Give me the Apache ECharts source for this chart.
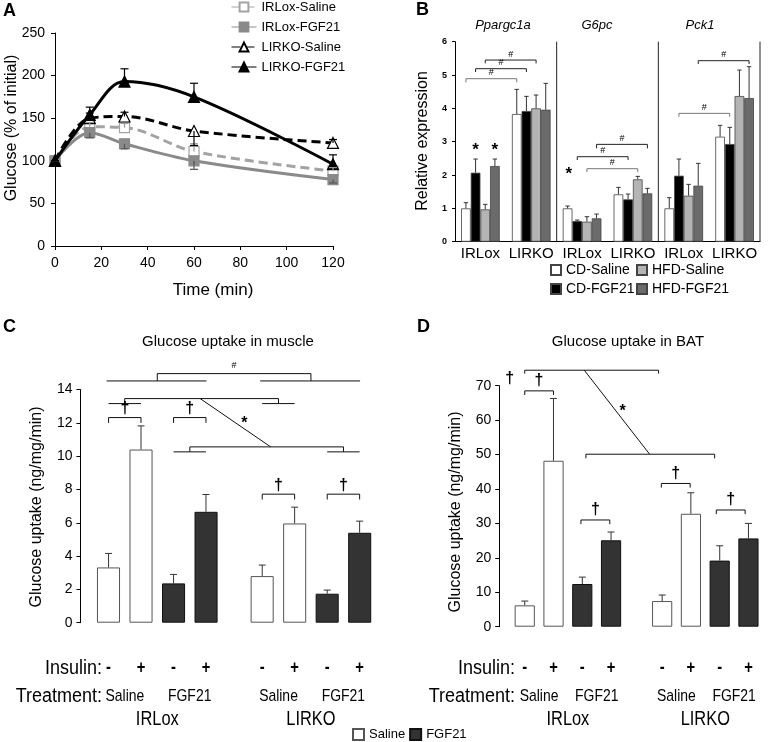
<!DOCTYPE html>
<html><head><meta charset="utf-8">
<script src="https://cdn.jsdelivr.net/npm/echarts@6/dist/echarts.min.js"></script>
<style>html,body{margin:0;padding:0;background:#fff}#c{width:774px;height:742px}</style>
</head><body><div id="c"></div>
<script>
// ---------- Panel A data ----------
const aTimes = [0, 15, 30, 60, 120];
const aIRLoxSaline = [100, 140, 139, 111, 88];
const aIRLoxFGF21 = [100, 133, 120, 100, 78];
const aLIRKOSaline = [100, 150, 152, 135, 121];
const aLIRKOFGF21 = [100, 154, 193, 175, 96];
const aIRLoxSalineErr = [100, 145, 144, 120, 92];
const aIRLoxFGF21Err = [100, 127, 114, 90, 74];
const aLIRKOSalineErr = [100, 156, 157, 118, 125];
const aLIRKOFGF21Err = [100, 163, 208, 191, 107];

// ---------- Panel B data ----------
const bCategories = ['IRLox', 'LIRKO', 'IRLox', 'LIRKO', 'IRLox', 'LIRKO'];
const bGenes = ['Ppargc1a', 'G6pc', 'Pck1'];
const bCDSaline = [1.0, 3.83, 1.0, 1.42, 1.0, 3.15];
const bCDSalineErr = [1.17, 4.57, 1.07, 1.63, 1.32, 3.49];
const bCDFGF21 = [2.07, 3.92, 0.62, 1.27, 1.98, 2.93];
const bCDFGF21Err = [2.48, 4.36, 0.65, 1.43, 2.48, 3.43];
const bHFDSaline = [0.97, 4.0, 0.6, 1.87, 1.38, 4.37];
const bHFDSalineErr = [1.12, 4.4, 0.75, 1.96, 1.72, 5.15];
const bHFDFGF21 = [2.27, 3.96, 0.7, 1.45, 1.68, 4.31];
const bHFDFGF21Err = [2.48, 4.75, 0.83, 1.6, 2.35, 5.25];

// ---------- Panel C data (muscle) ----------
const cdGenotypes = ['IRLox', 'LIRKO'];
const cSalineBasal = [3.32, 2.8];
const cSalineBasalErr = [4.16, 3.46];
const cSalineInsulin = [10.4, 5.96];
const cSalineInsulinErr = [11.82, 6.94];
const cFGF21Basal = [2.36, 1.74];
const cFGF21BasalErr = [2.9, 1.96];
const cFGF21Insulin = [6.66, 5.4];
const cFGF21InsulinErr = [7.7, 6.1];

// ---------- Panel D data (BAT) ----------
const dSalineBasal = [6.2, 7.45];
const dSalineBasalErr = [7.45, 9.2];
const dSalineInsulin = [48.2, 32.8];
const dSalineInsulinErr = [66.3, 38.9];
const dFGF21Basal = [12.4, 19.2];
const dFGF21BasalErr = [14.4, 23.5];
const dFGF21Insulin = [25.1, 25.65];
const dFGF21InsulinErr = [27.5, 30.0];

// bottom row labels
const insulinSigns = ['-', '+', '-', '+', '-', '+', '-', '+'];
const treatments = ['Saline', 'FGF21', 'Saline', 'FGF21'];

// ---------- layout constants (not data) ----------
const SANS = "'Liberation Sans', Arial, sans-serif";
const NX = 0.82; // horizontal squeeze to mimic a narrow face
const bOff = [-0.285, -0.095, 0.095, 0.285];
const cOff = [-0.317, -0.106, 0.106, 0.317];
const dOff = [-0.314, -0.105, 0.105, 0.314];
const cPos = [0, 1].flatMap(i => cOff.map(o => i + o));
const dPos = [0, 1].flatMap(i => dOff.map(o => i + o));
const ROW_INS = 668, ROW_TRT = 696, ROW_GEN = 719;

// significance annotations (in axis units)
const bBracketsGray = [
  [[-0.285, 4.78], [-0.285, 4.89], [0.715, 4.89], [0.715, 4.78]],
  [[2.095, 2.09], [2.095, 2.19], [3.095, 2.19], [3.095, 2.09]],
  [[3.905, 3.75], [3.905, 3.85], [4.905, 3.85], [4.905, 3.75]]
];
const bBracketsBlack = [
  [[-0.095, 5.09], [-0.095, 5.19], [0.905, 5.19], [0.905, 5.09]],
  [[0.095, 5.35], [0.095, 5.45], [1.095, 5.45], [1.095, 5.35]],
  [[1.905, 2.45], [1.905, 2.55], [2.905, 2.55], [2.905, 2.45]],
  [[2.285, 2.80], [2.285, 2.92], [3.285, 2.92], [3.285, 2.80]],
  [[4.285, 5.33], [4.285, 5.43], [5.285, 5.43], [5.285, 5.33]],
  [[1.5, 0], [1.5, 6]], [[3.5, 0], [3.5, 6]], [[5.5, 0], [5.5, 6]]
];
const bHashes = [[0.215, 4.89, '#'], [0.405, 5.19, '#'], [0.595, 5.45, '#'],
  [2.785, 2.92, '#'], [2.405, 2.55, '#'], [2.595, 2.19, '#'], [4.405, 3.85, '#'], [4.785, 5.43, '#']];
const bStars = [[-0.095, 2.83, '*'], [0.285, 2.83, '*'], [1.74, 2.1, '*']];

const cBrackets = [
  [[-0.33, 14.52], [0.32, 14.52]],
  [[0, 14.52], [0, 14.96], [1, 14.96], [1, 14.52]],
  [[0.67, 14.52], [1.32, 14.52]],
  [[-0.317, 13.16], [-0.106, 13.16]],
  [[-0.212, 13.16], [-0.212, 13.46], [0.789, 13.46], [0.789, 13.16]],
  [[0.683, 13.16], [0.894, 13.16]],
  [[0.279, 13.46], [0.738, 10.56]],
  [[0.106, 10.26], [0.317, 10.26]],
  [[0.212, 10.26], [0.212, 10.56], [1.212, 10.56], [1.212, 10.26]],
  [[1.106, 10.26], [1.317, 10.26]],
  [[-0.317, 12.0], [-0.317, 12.32], [-0.106, 12.32], [-0.106, 12.0]],
  [[0.106, 12.0], [0.106, 12.32], [0.317, 12.32], [0.317, 12.0]],
  [[0.683, 7.4], [0.683, 7.72], [0.894, 7.72], [0.894, 7.4]],
  [[1.106, 7.4], [1.106, 7.72], [1.317, 7.72], [1.317, 7.4]]
];
const cHashes = [[0.5, 15.46, '#']];
const cStars = [[0.567, 12.16, '*']];
const cDaggers = [[-0.211, 12.32, '†'], [0.211, 12.32, '†'], [0.789, 7.72, '†'], [1.211, 7.72, '†']];

const dBrackets = [
  [[-0.314, 73.5], [-0.314, 74.5], [0.66, 74.5], [0.66, 73.5]],
  [[0.119, 74.5], [0.595, 50.1]],
  [[0.131, 48.9], [0.131, 50.1], [1.068, 50.1], [1.068, 48.9]],
  [[-0.314, 67.3], [-0.314, 68.5], [-0.105, 68.5], [-0.105, 67.3]],
  [[0.095, 29.8], [0.095, 31.0], [0.305, 31.0], [0.305, 29.8]],
  [[0.68, 40.4], [0.68, 41.6], [0.89, 41.6], [0.89, 40.4]],
  [[1.08, 32.7], [1.08, 33.9], [1.29, 33.9], [1.29, 32.7]]
];
const dStars = [[0.399, 63.4, '*']];
const dDaggers = [[-0.21, 68.5, '†'], [0.2, 31.0, '†'], [0.785, 41.6, '†'], [1.185, 33.9, '†']];
const dOuterDagger = [[-0.424, 72.1, '†']];

// ---------- helpers ----------
function pathSeries(xi, yi, paths, color, width) {
  return {
    type: 'custom', xAxisIndex: xi, yAxisIndex: yi, silent: true, z: 5, clip: false,
    data: paths.map(p => [p[0][0], p[0][1]]),
    renderItem: (params, api) => ({
      type: 'polyline',
      shape: { points: paths[params.dataIndex].map(pt => api.coord(pt)) },
      style: { stroke: color, lineWidth: width, fill: null }
    })
  };
}
function textSeries(xi, yi, items, font, color, dy, sx, absY) {
  return {
    type: 'custom', xAxisIndex: xi, yAxisIndex: yi, silent: true, z: 6, clip: false,
    data: items.map(t => [t[0], t[1]]),
    renderItem: (params, api) => {
      const it = items[params.dataIndex];
      const c = api.coord([it[0], it[1]]);
      return {
        type: 'text', x: c[0], y: absY != null ? absY : c[1] + dy, scaleX: sx || 1,
        style: { text: it[2], font: font, fill: color, textAlign: 'center', textVerticalAlign: 'middle', align: 'center', verticalAlign: 'middle' }
      };
    }
  };
}
function errSeries(xi, yi, xs, vals, ends, color, cap, width) {
  return {
    type: 'custom', xAxisIndex: xi, yAxisIndex: yi, silent: true, z: 4, clip: false,
    data: xs.map((x, i) => [x, vals[i], ends[i]]),
    renderItem: (params, api) => {
      const x = api.value(0);
      const p0 = api.coord([x, api.value(1)]);
      const p1 = api.coord([x, api.value(2)]);
      const st = { stroke: color, lineWidth: width };
      return { type: 'group', children: [
        { type: 'line', shape: { x1: p0[0], y1: p0[1], x2: p1[0], y2: p1[1] }, style: st },
        { type: 'line', shape: { x1: p1[0] - cap, y1: p1[1], x2: p1[0] + cap, y2: p1[1] }, style: st }
      ] };
    }
  };
}
function hiddenValueX(grid, min, max) {
  return { type: 'value', gridIndex: grid, min: min, max: max, show: false, splitLine: { show: false } };
}
function yAx(grid, max, interval, fontSize, bold, margin, tick) {
  return {
    type: 'value', gridIndex: grid, min: 0, max: max, interval: interval, splitLine: { show: false },
    axisLine: { show: true, onZero: false, lineStyle: { color: '#000' } },
    axisTick: { show: true, length: tick, lineStyle: { color: '#000' } },
    axisLabel: { color: '#000', fontSize: fontSize, fontWeight: bold ? 'bold' : 'normal', margin: margin, fontFamily: SANS }
  };
}
function gtext(x, y, text, font, align, rot, sx) {
  return { type: 'text', x: x, y: y, rotation: rot || 0, scaleX: sx || 1,
    style: { text: text, font: font, fill: '#000', textAlign: align, align: align, textVerticalAlign: 'middle', verticalAlign: 'middle' } };
}

// ---------- panel A series ----------
function lineSer(name, vals, color, dashed, symbol, fill, z) {
  return {
    type: 'line', name: name, xAxisIndex: 0, yAxisIndex: 0, z: z,
    data: aTimes.map((t, i) => [t, vals[i]]),
    smooth: 0.35, symbol: symbol, symbolSize: symbol === 'triangle' ? 11 : 10,
    lineStyle: { color: color, width: 3, type: dashed ? [9, 5] : 'solid' },
    itemStyle: { color: fill, borderColor: color, borderWidth: 1.2 },
    emphasis: { disabled: true }
  };
}

const series = [
  errSeries(0, 0, aTimes, aIRLoxSaline, aIRLoxSalineErr, '#999', 4, 1.2),
  errSeries(0, 0, aTimes, aIRLoxFGF21, aIRLoxFGF21Err, '#555', 4, 1.2),
  errSeries(0, 0, aTimes, aLIRKOSaline, aLIRKOSalineErr, '#000', 4, 1.2),
  errSeries(0, 0, aTimes, aLIRKOFGF21, aLIRKOFGF21Err, '#000', 4, 1.2),
  lineSer('IRLox-Saline', aIRLoxSaline, '#a3a3a3', true, 'rect', '#fff', 2),
  lineSer('IRLox-FGF21', aIRLoxFGF21, '#8a8a8a', false, 'rect', '#8a8a8a', 2),
  lineSer('LIRKO-Saline', aLIRKOSaline, '#000', true, 'triangle', '#fff', 3),
  lineSer('LIRKO-FGF21', aLIRKOFGF21, '#000', false, 'triangle', '#000', 3),
];

// ---------- panel B series ----------
const bSeriesDefs = [
  ['CD-Saline', bCDSaline, bCDSalineErr, '#ffffff'],
  ['CD-FGF21', bCDFGF21, bCDFGF21Err, '#000000'],
  ['HFD-Saline', bHFDSaline, bHFDSalineErr, '#b4b4b4'],
  ['HFD-FGF21', bHFDFGF21, bHFDFGF21Err, '#6b6b6b']
];
bSeriesDefs.forEach((d, k) => {
  series.push({
    type: 'bar', name: d[0], xAxisIndex: 1, yAxisIndex: 1, data: d[1],
    barGap: '0%', barCategoryGap: '24%',
    itemStyle: { color: d[3], borderColor: '#444', borderWidth: 0.8 },
    emphasis: { disabled: true }
  });
  series.push(errSeries(2, 1, bCategories.map((_, i) => i + bOff[k]), d[1], d[2], '#333', 2.2, 1));
});
series.push(pathSeries(2, 1, bBracketsGray, '#777', 1));
series.push(pathSeries(2, 1, bBracketsBlack, '#222', 1));
series.push(textSeries(2, 1, bHashes, '9px ' + SANS, '#000', -6));
series.push(textSeries(2, 1, bStars, 'bold 17px ' + SANS, '#000', 3));

// ---------- panel C / D series ----------
function uptakeBars(xCat, xVal, yi, defs, pos, gap, catGap) {
  defs.forEach((d, k) => {
    series.push({
      type: 'bar', name: d[0], xAxisIndex: xCat, yAxisIndex: yi, data: d[1],
      barGap: gap, barCategoryGap: catGap,
      itemStyle: { color: d[3], borderColor: d[4], borderWidth: 1 },
      emphasis: { disabled: true }
    });
    series.push(errSeries(xVal, yi, [k, k + 4].map(j => pos[j]), d[1], d[2], '#333', 3.5, 1));
  });
}
uptakeBars(3, 4, 2, [
  ['Saline', cSalineBasal, cSalineBasalErr, '#ffffff', '#555'],
  ['Saline', cSalineInsulin, cSalineInsulinErr, '#ffffff', '#555'],
  ['FGF21', cFGF21Basal, cFGF21BasalErr, '#333333', '#111'],
  ['FGF21', cFGF21Insulin, cFGF21InsulinErr, '#333333', '#111']
], cPos, '41%', '21.5%');
uptakeBars(5, 6, 3, [
  ['Saline', dSalineBasal, dSalineBasalErr, '#ffffff', '#555'],
  ['Saline', dSalineInsulin, dSalineInsulinErr, '#ffffff', '#555'],
  ['FGF21', dFGF21Basal, dFGF21BasalErr, '#333333', '#111'],
  ['FGF21', dFGF21Insulin, dFGF21InsulinErr, '#333333', '#111']
], dPos, '42.4%', '22.5%');

series.push(pathSeries(4, 2, cBrackets, '#111', 1));
series.push(textSeries(4, 2, cHashes, '9px ' + SANS, '#000', 0));
series.push(textSeries(4, 2, cStars, 'bold 16px ' + SANS, '#000', 3));
series.push(textSeries(4, 2, cDaggers, 'bold 16px ' + SANS, '#000', -9));
series.push(pathSeries(6, 3, dBrackets, '#111', 1));
series.push(textSeries(6, 3, dStars, 'bold 16px ' + SANS, '#000', 3));
series.push(textSeries(6, 3, dDaggers, 'bold 16px ' + SANS, '#000', -10));
series.push(textSeries(6, 3, dOuterDagger, 'bold 16px ' + SANS, '#000', 0));

// bottom rows: insulin signs, treatment, genotype
series.push(textSeries(4, 2, cPos.map((x, i) => [x, 0, insulinSigns[i]]), 'bold 18px ' + SANS, '#000', 0, NX, ROW_INS));
series.push(textSeries(4, 2, [-0.211, 0.211, 0.789, 1.211].map((x, i) => [x, 0, treatments[i]]), '17px ' + SANS, '#000', 0, NX, ROW_TRT));
series.push(textSeries(4, 2, [0, 1].map(i => [i, 0, cdGenotypes[i]]), '20px ' + SANS, '#000', 0, NX, ROW_GEN));
series.push(textSeries(6, 3, dPos.map((x, i) => [x, 0, insulinSigns[i]]), 'bold 18px ' + SANS, '#000', 0, NX, ROW_INS));
series.push(textSeries(6, 3, [-0.21, 0.21, 0.79, 1.21].map((x, i) => [x, 0, treatments[i]]), '17px ' + SANS, '#000', 0, NX, ROW_TRT));
series.push(textSeries(6, 3, [0, 1].map(i => [i, 0, cdGenotypes[i]]), '20px ' + SANS, '#000', 0, NX, ROW_GEN));

const option = {
  animation: false,
  backgroundColor: '#fff',
  textStyle: { fontFamily: SANS },
  grid: [
    { left: 55, top: 33, width: 278, height: 213 },
    { left: 455, top: 41.7, width: 305, height: 200 },
    { left: 80.45, top: 389.6, width: 307.3, height: 233.1 },
    { left: 499.2, top: 385.7, width: 285.8, height: 241 }
  ],
  xAxis: [
    { type: 'value', gridIndex: 0, min: 0, max: 120, interval: 20, splitLine: { show: false },
      axisLine: { onZero: false, lineStyle: { color: '#000' } }, axisTick: { length: 4, lineStyle: { color: '#000' } },
      axisLabel: { color: '#000', fontSize: 14, margin: 10, fontFamily: SANS } },
    { type: 'category', gridIndex: 1, data: bCategories, axisLine: { onZero: false, lineStyle: { color: '#000' } }, axisTick: { show: false },
      axisLabel: { color: '#000', fontSize: 15, margin: 5, interval: 0, fontFamily: SANS } },
    hiddenValueX(1, -0.5, 5.5),
    { type: 'category', gridIndex: 2, data: cdGenotypes, show: false },
    hiddenValueX(2, -0.5, 1.5),
    { type: 'category', gridIndex: 3, data: cdGenotypes, show: false },
    hiddenValueX(3, -0.5, 1.5)
  ],
  yAxis: [
    yAx(0, 250, 50, 14, false, 10, 4),
    yAx(1, 6, 1, 9, true, 8, 3),
    yAx(2, 14, 2, 14, false, 8, 4),
    yAx(3, 70, 10, 14, false, 8, 4)
  ],
  legend: [
    { data: ['IRLox-Saline', 'IRLox-FGF21', 'LIRKO-Saline', 'LIRKO-FGF21'], orient: 'vertical',
      left: 231, top: 0, padding: 0, itemWidth: 25, itemHeight: 11, itemGap: 6, itemTextGap: 9,
      lineStyle: { width: 1 }, selectedMode: false,
      textStyle: { fontSize: 13, color: '#000', fontFamily: SANS, lineHeight: 14 } },
    { data: ['CD-Saline', 'CD-FGF21'], orient: 'vertical', left: 550, top: 263, padding: 0,
      itemWidth: 10, itemHeight: 10, itemGap: 5, icon: 'rect', selectedMode: false,
      textStyle: { fontSize: 14, color: '#000', fontFamily: SANS } },
    { data: ['HFD-Saline', 'HFD-FGF21'], orient: 'vertical', left: 636, top: 263, padding: 0,
      itemWidth: 10, itemHeight: 10, itemGap: 5, icon: 'rect', selectedMode: false,
      textStyle: { fontSize: 14, color: '#000', fontFamily: SANS } },
    { data: ['Saline', 'FGF21'], orient: 'horizontal', left: 352, top: 728, padding: 0,
      itemWidth: 11, itemHeight: 11, itemGap: 4, itemTextGap: 2, icon: 'rect', selectedMode: false,
      textStyle: { fontSize: 13, color: '#000', fontFamily: SANS } }
  ],
  graphic: [
    gtext(3, 11, 'A', 'bold 18px ' + SANS, 'left'),
    gtext(416, 10, 'B', 'bold 18px ' + SANS, 'left'),
    gtext(3, 327, 'C', 'bold 18px ' + SANS, 'left'),
    gtext(417, 327, 'D', 'bold 18px ' + SANS, 'left'),
    gtext(12, 128, 'Glucose (% of initial)', '16px ' + SANS, 'center', Math.PI / 2),
    gtext(213, 290, 'Time (min)', '17px ' + SANS, 'center'),
    gtext(423, 141, 'Relative expression', '16px ' + SANS, 'center', Math.PI / 2),
    gtext(503, 25, bGenes[0], 'italic 13px ' + SANS, 'center'),
    gtext(597, 25, bGenes[1], 'italic 13px ' + SANS, 'center'),
    gtext(700, 25, bGenes[2], 'italic 13px ' + SANS, 'center'),
    gtext(228, 342, 'Glucose uptake in muscle', '15px ' + SANS, 'center'),
    gtext(628, 342, 'Glucose uptake in BAT', '15px ' + SANS, 'center'),
    gtext(37, 507, 'Glucose uptake (ng/mg/min)', '16px ' + SANS, 'center', Math.PI / 2),
    gtext(456, 512, 'Glucose uptake (ng/mg/min)', '16px ' + SANS, 'center', Math.PI / 2),
    gtext(102, ROW_INS, 'Insulin:', '20px ' + SANS, 'right', 0, 0.9),
    gtext(102, ROW_TRT, 'Treatment:', '20px ' + SANS, 'right', 0, 0.9),
    gtext(515, ROW_INS, 'Insulin:', '20px ' + SANS, 'right', 0, 0.9),
    gtext(515, ROW_TRT, 'Treatment:', '20px ' + SANS, 'right', 0, 0.9)
  ],
  series: series
};
const chart = echarts.init(document.getElementById('c'), null, { renderer: 'canvas' });
chart.setOption(option);
</script>
</body></html>
